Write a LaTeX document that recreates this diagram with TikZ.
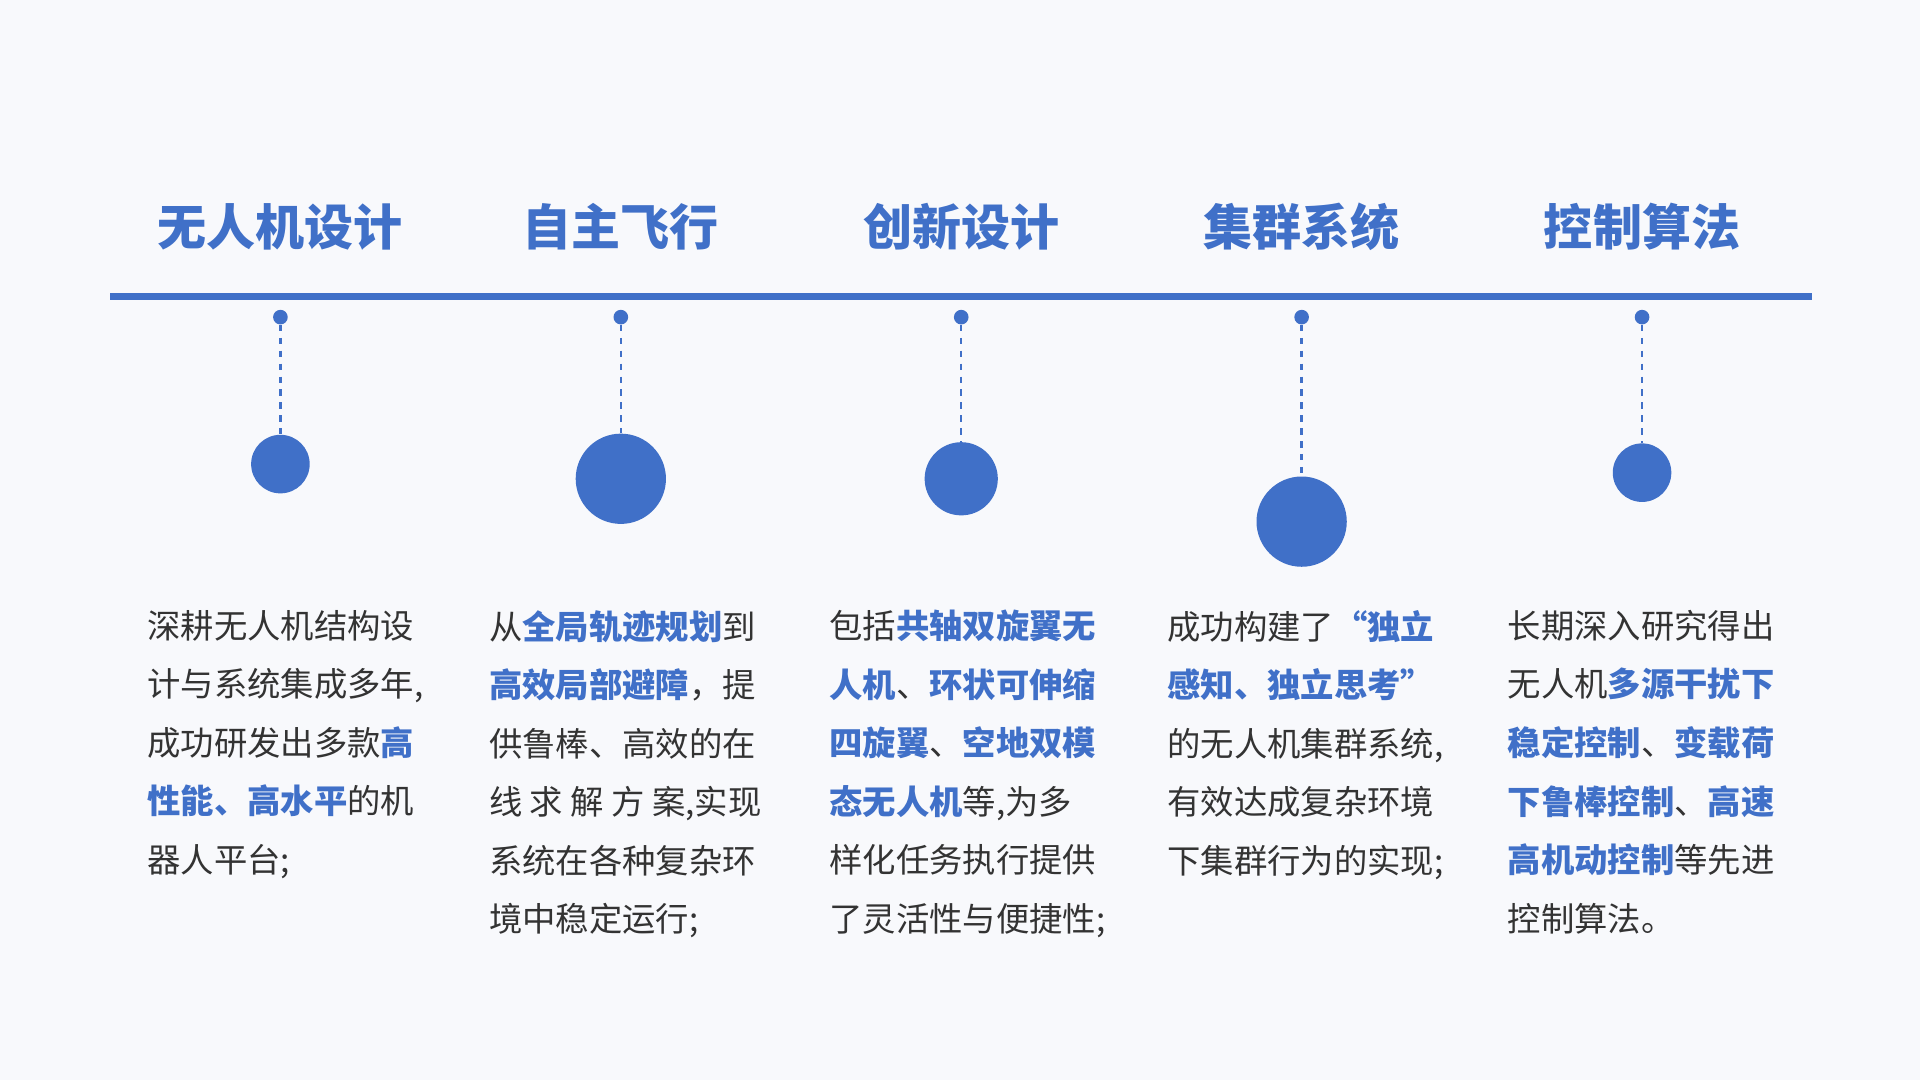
\documentclass[tikz,border=0pt]{standalone}
\usepackage{fontspec}
\setmainfont{Noto Sans CJK SC}
\definecolor{bg}{HTML}{F8F9FC}
\definecolor{mblue}{HTML}{4070C8}
\definecolor{txt}{HTML}{333333}
\newcommand{\hl}[1]{\textcolor{mblue}{\bfseries #1}}
\tikzset{
 ttl/.style={font=\fontsize{22.8}{26}\selectfont\bfseries, text=mblue},
 body/.style={font=\fontsize{15.5}{27.2}\selectfont, text=txt, align=left, anchor=north west, inner sep=0},
 dot/.style={circle, fill=mblue, inner sep=0, minimum size=#1},
 conn/.style={mblue, dashed, line width=1.1pt}
}
\begin{document}
\begin{tikzpicture}[x=0.02cm,y=-0.02cm]
\fill[bg] (0,0) rectangle (1568,882);
\useasboundingbox (0,0) rectangle (1568,882);
\draw[mblue, line width=3pt] (90,242) -- (1480,242);
\foreach \i/\x/\y/\d/\t in {1/229/379/48/无人机设计, 2/507/391/74/自主飞行, 3/785/391/60/创新设计, 4/1063/426/74/集群系统, 5/1341/386/48/控制算法}{
 \node[ttl] (t\i) at (\x,185) {\t};
 \node[dot=12*0.567pt] (s\i) at (\x,259) {};
 \node[dot=\d*0.567pt] (c\i) at (\x,\y) {};
 \draw[conn] (s\i) -- (c\i);
}
\node[body] (b1) at (120,498) {深耕无人机结构设\\计与系统集成多年,\\成功研发出多款\hl{高}\\\hl{性能、高水平}的机\\器人平台;};
\node[body] (b2) at (399,498) {从\hl{全局轨迹规划}到\\\hl{高效局部避障}，提\\供鲁棒、高效的在\\线 求 解 方 案,实现\\系统在各种复杂环\\境中稳定运行;};
\node[body] (b3) at (677,498) {包括\hl{共轴双旋翼无}\\\hl{人机}、\hl{环状可伸缩}\\\hl{四旋翼}、\hl{空地双模}\\\hl{态无人机}等,为多\\样化任务执行提供\\了灵活性与便捷性;};
\node[body] (b4) at (953,498) {成功构建了\hl{“独立}\\\hl{感知、独立思考”}\\的无人机集群系统,\\有效达成复杂环境\\下集群行为的实现;};
\node[body] (b5) at (1231,498) {长期深入研究得出\\无人机\hl{多源干扰下}\\\hl{稳定控制}、\hl{变载荷}\\\hl{下鲁棒控制}、\hl{高速}\\\hl{高机动控制}等先进\\控制算法。};
\end{tikzpicture}
\end{document}
